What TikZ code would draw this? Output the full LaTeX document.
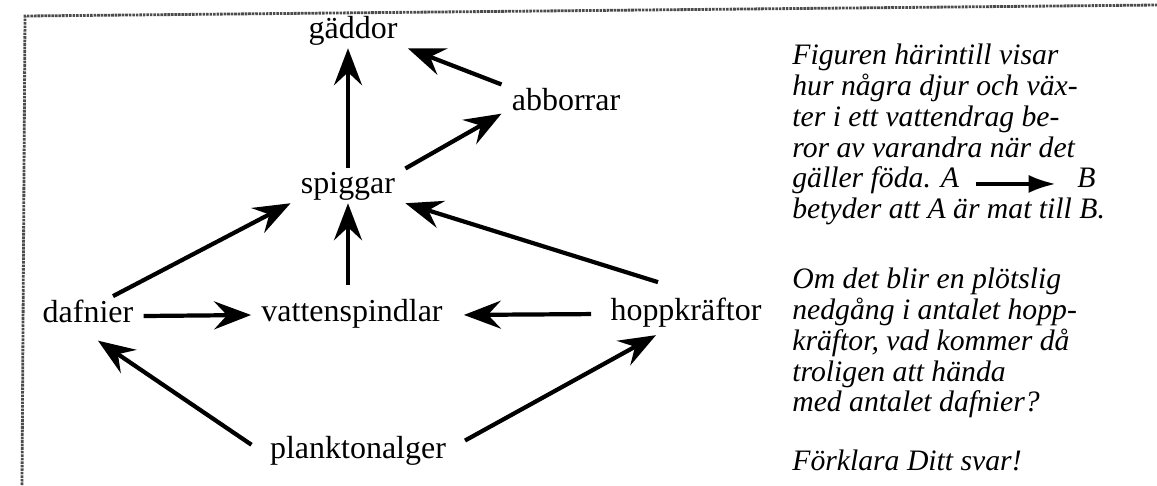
\documentclass[tikz,border=0pt]{standalone}
\usepackage{fontspec}
\setmainfont{Liberation Serif}
\usetikzlibrary{arrows.meta}

\begin{document}
\begin{tikzpicture}[
  x=0.02cm, y=-0.02cm,
  taxon/.style={font=\fontsize{18.2}{22}\selectfont, anchor=base, inner xsep=2mm, inner ysep=0.6mm},
  feeds/.style={-{Stealth[length=7.4mm, width=5.6mm, inset=2.6mm]}, line width=2.4pt},
  note/.style={font=\fontsize{16.9}{17.5}\selectfont\itshape, align=left, inner sep=0pt},
  frame/.style={draw=black!70, line width=1.6pt, dash pattern=on 1.5pt off 0.5pt}
]
\useasboundingbox (0,0) rectangle (1157,485);
\draw[frame] (22,485) -- (25,16) -- (1157,5);

% food web
\node[taxon] (gaddor)   at (353,38)  {gäddor};
\node[taxon] (abborrar) at (566,110) {abborrar};
\node[taxon] (spiggar)  at (348,193) {spiggar};
\node[taxon] (dafnier)  at (88,322)  {dafnier};
\node[taxon] (vatten)   at (352,321) {vattenspindlar};
\node[taxon] (hopp)     at (686,320) {hoppkräftor};
\node[taxon] (plankton) at (358,458) {planktonalger};

\draw[feeds] (spiggar.north) -- (spiggar.north |- gaddor.south);
\draw[feeds] (abborrar.north west) -- (gaddor.south east);
\draw[feeds] (spiggar.north east) -- (abborrar.south west);
\draw[feeds] ([xshift=5mm]dafnier.north) -- (spiggar.south west);
\draw[feeds, shorten <=2mm] (spiggar.south |- vatten.north) -- (spiggar.south);
\draw[feeds] ([xshift=-5.6mm,yshift=2.4mm]hopp.north) -- (spiggar.south east);
\draw[feeds] ([yshift=1.2mm]dafnier.base east) -- ([yshift=1.2mm]vatten.base west);
\draw[feeds, shorten <=1.8mm, shorten >=2.2mm] ([yshift=1.2mm]hopp.base west) -- ([yshift=1.2mm]vatten.base east);
\draw[feeds, shorten <=2mm] (plankton.west) -- ([xshift=2mm,yshift=-3mm]dafnier.south);
\draw[feeds, shorten <=2mm] ([yshift=1mm]plankton.east) -- ([xshift=-6mm,yshift=-1mm]hopp.south);

% question text
\node[note, anchor=north west] (intro) at (792,44) {%
  Figuren härintill visar\\
  hur några djur och väx-\\
  ter i ett vattendrag be-\\
  ror av varandra när det\\
  gäller föda. A\hspace{0.3cm}\tikz[baseline=-0.8mm]\draw[-{Latex[length=5.4mm,width=3.6mm]}, line width=2pt] (0,0) -- (1.6cm,0);\hspace{0.4cm}B\\
  betyder att A är mat till B.};
\node[note, anchor=north west] (question) at (792,268) {%
  Om det blir en plötslig\\
  nedgång i antalet hopp-\\
  kräftor, vad kommer då\\
  troligen att hända\\
  med antalet dafnier?};
\node[note, anchor=base west] (explain) at (792,470) {Förklara Ditt svar!};
\end{tikzpicture}
\end{document}
